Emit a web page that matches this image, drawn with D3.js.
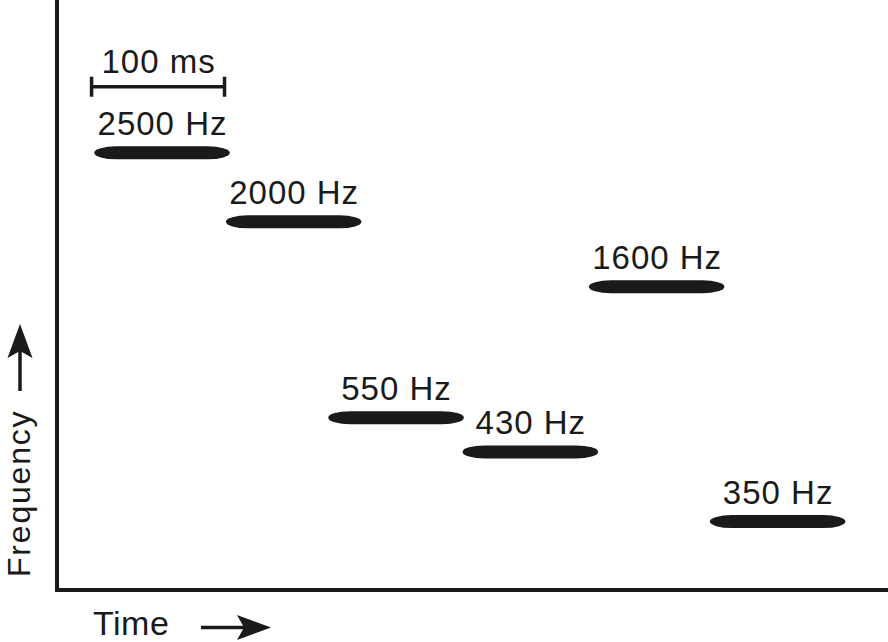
<!DOCTYPE html>
<html>
<head>
<meta charset="utf-8">
<script src="https://cdn.jsdelivr.net/npm/d3@7"></script>
<style>
  html, body { margin: 0; padding: 0; background: #fff; }
  svg { display: block; }
  text { font-family: "Liberation Sans", Arial, Helvetica, sans-serif; fill: #1a1a1a; }
</style>
</head>
<body>
<svg id="chart" width="888" height="642"></svg>
<script>
// ---- data ----
const toneLabels = ["2500 Hz", "2000 Hz", "550 Hz", "430 Hz", "1600 Hz", "350 Hz"];
const toneStartMs = [28, 127, 204, 305, 400, 491];
const toneDurationMs = [102, 102, 102, 102, 102, 102];
const toneLevel = [74.1, 62.4, 29.2, 23.4, 51.4, 11.6];   // schematic vertical position (0-100)
const scaleBarStartMs = 26;
const scaleBarLengthMs = 100;
const scaleBarLevel = 85.3;
const scaleBarLabel = "100 ms";
const xTitle = "Time";
const yTitle = "Frequency";

const W = 888, H = 642;
const ink = "#1a1a1a";
const svg = d3.select("#chart");

const x = d3.scaleLinear().domain([0, 625]).range([57, 888]);
const y = d3.scaleLinear().domain([0, 100]).range([590, 0]);

const tones = toneLabels.map((l, i) => ({
  label: l, start: toneStartMs[i], dur: toneDurationMs[i], level: toneLevel[i]
}));

// axes lines
svg.append("path")
  .attr("d", `M${x(0)},0 L${x(0)},${y(0)} L${W},${y(0)}`)
  .attr("fill", "none").attr("stroke", ink).attr("stroke-width", 4)
  .attr("stroke-linejoin", "miter");

// bars
const barH = 13;
svg.selectAll("rect.tone").data(tones).join("rect")
  .attr("class", "tone")
  .attr("x", d => x(d.start))
  .attr("width", d => x(d.start + d.dur) - x(d.start))
  .attr("y", d => y(d.level) - barH / 2)
  .attr("height", barH)
  .attr("rx", 22).attr("ry", barH / 2)
  .attr("fill", ink);

// labels
svg.selectAll("text.tone").data(tones).join("text")
  .attr("class", "tone")
  .attr("x", d => (x(d.start) + x(d.start + d.dur)) / 2 + 0.5)
  .attr("y", d => y(d.level) - 18)
  .attr("text-anchor", "middle")
  .attr("font-size", 33)
  .attr("letter-spacing", 1)
  .text(d => d.label);

// scale bar
const sx0 = x(scaleBarStartMs), sx1 = x(scaleBarStartMs + scaleBarLengthMs), sy = y(scaleBarLevel);
const sb = svg.append("g").attr("stroke", ink).attr("stroke-width", 3.5).attr("fill", "none");
sb.append("line").attr("x1", sx0).attr("x2", sx1).attr("y1", sy).attr("y2", sy);
sb.append("line").attr("x1", sx0).attr("x2", sx0).attr("y1", sy - 10).attr("y2", sy + 10);
sb.append("line").attr("x1", sx1).attr("x2", sx1).attr("y1", sy - 10).attr("y2", sy + 10);
svg.append("text")
  .attr("x", (sx0 + sx1) / 2 + 0.5).attr("y", sy - 13.5)
  .attr("text-anchor", "middle").attr("font-size", 33).attr("letter-spacing", 1)
  .text(scaleBarLabel);

// x title + arrow
svg.append("text")
  .attr("x", 93).attr("y", 635)
  .attr("font-size", 34).attr("letter-spacing", 0.5)
  .text(xTitle);
svg.append("line").attr("x1", 201).attr("x2", 250).attr("y1", 627.5).attr("y2", 627.5)
  .attr("stroke", ink).attr("stroke-width", 3.5);
svg.append("path")
  .attr("d", "M271,627.5 L237,615 L244,627.5 L237,640 Z")
  .attr("fill", ink);

// y title + arrow
svg.append("text")
  .attr("transform", "translate(30,577) rotate(-90)")
  .attr("font-size", 32).attr("letter-spacing", 1.8)
  .text(yTitle);
svg.append("line").attr("x1", 20).attr("x2", 20).attr("y1", 391).attr("y2", 345)
  .attr("stroke", ink).attr("stroke-width", 3.5);
svg.append("path")
  .attr("d", "M20,324 L7.5,358 L20,351 L32.5,358 Z")
  .attr("fill", ink);
</script>
</body>
</html>
